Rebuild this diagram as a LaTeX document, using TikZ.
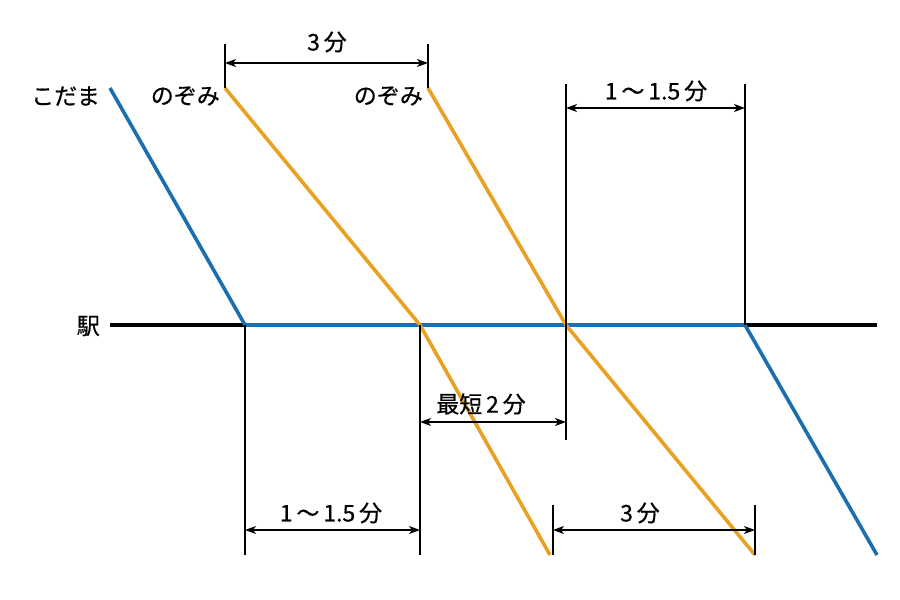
\documentclass[tikz,border=0pt]{standalone}
\usepackage{fontspec}
\setmainfont{Noto Sans CJK JP}[FakeBold=0.6]
\usetikzlibrary{arrows.meta}
\definecolor{kblue}{HTML}{1B6FAE}
\definecolor{norange}{HTML}{E8A122}
\begin{document}
\begin{tikzpicture}[x=1pt,y=-1pt,
  train/.style={line width=3.6pt,line join=round},
  tick/.style={line width=1.1pt,black},
  dim/.style={line width=1.1pt,black,{Stealth[length=11pt,width=8pt,inset=3pt]}-{Stealth[length=11pt,width=8pt,inset=3pt]}},
  lbl/.style={font=\fontsize{23pt}{25pt}\selectfont,inner sep=1pt}]
\useasboundingbox (0,0) rectangle (900,600);
% coordinates
\coordinate (sL) at (110,325);
\coordinate (sR) at (877,325);
\coordinate (k0) at (110,88);
\coordinate (k1) at (245,325);
\coordinate (k2) at (745,325);
\coordinate (k3) at (877,555);
\coordinate (a0) at (225,88);
\coordinate (a1) at (420,325);
\coordinate (a2) at (550,555);
\coordinate (b0) at (428,88);
\coordinate (b1) at (566,325);
\coordinate (b2) at (755,555);
% station line
\draw[line width=3.2pt,black] (sL) -- (sR);
% trains
\draw[train,kblue] (k0) -- (k1) -- (k2) -- (k3);
\draw[train,norange] (a0) -- (a1) -- (a2);
\draw[train,norange] (b0) -- (b1) -- (b2);
% labels
\node[lbl,anchor=east] (kod) at (101,96) {こだま};
\node[lbl,anchor=east] (noz1) at (221,96) {のぞみ};
\node[lbl,anchor=east] (noz2) at (424,96) {のぞみ};
\node[lbl,anchor=east] (eki) at (101,326) {駅};
% top 3 min
\coordinate (t1) at (225,44);
\coordinate (t2) at (428,44);
\draw[tick] (t1) -- (a0);
\draw[tick] (t2) -- (b0);
\coordinate (t1a) at (225,63);
\coordinate (t2a) at (428,63);
\draw[dim] (t1a) -- (t2a);
\node[lbl] (l3a) at (327,42) {3\,分};
% top-right 1~1.5
\coordinate (u1) at (566,84);
\coordinate (u2) at (745,84);
\coordinate (u1e) at (566,440);
\draw[tick] (u1) -- (u1e);
\draw[tick] (u2) -- (k2);
\coordinate (u1a) at (566,108);
\coordinate (u2a) at (745,108);
\draw[dim] (u1a) -- (u2a);
\node[lbl] (l15a) at (656,91) {1\,〜\,1.5\,分};
% 最短2分
\coordinate (v1e) at (420,555);
\draw[tick] (a1) -- (v1e);
\coordinate (v1a) at (420,422);
\coordinate (v2a) at (566,422);
\draw[dim] (v1a) -- (v2a);
\node[lbl] (lmin) at (481,404) {最短\,2\,分};
% bottom 1~1.5
\coordinate (w1e) at (245,555);
\draw[tick] (k1) -- (w1e);
\coordinate (w1a) at (245,530);
\coordinate (w2a) at (420,530);
\draw[dim] (w1a) -- (w2a);
\node[lbl] (l15b) at (331,513) {1\,〜\,1.5\,分};
% bottom 3 min
\coordinate (x1) at (553,505);
\coordinate (x1e) at (553,555);
\coordinate (x2) at (755,505);
\draw[tick] (x1) -- (x1e);
\draw[tick] (x2) -- (b2);
\coordinate (x1a) at (553,530);
\coordinate (x2a) at (755,530);
\draw[dim] (x1a) -- (x2a);
\node[lbl] (l3b) at (640,513) {3\,分};
\end{tikzpicture}
\end{document}
